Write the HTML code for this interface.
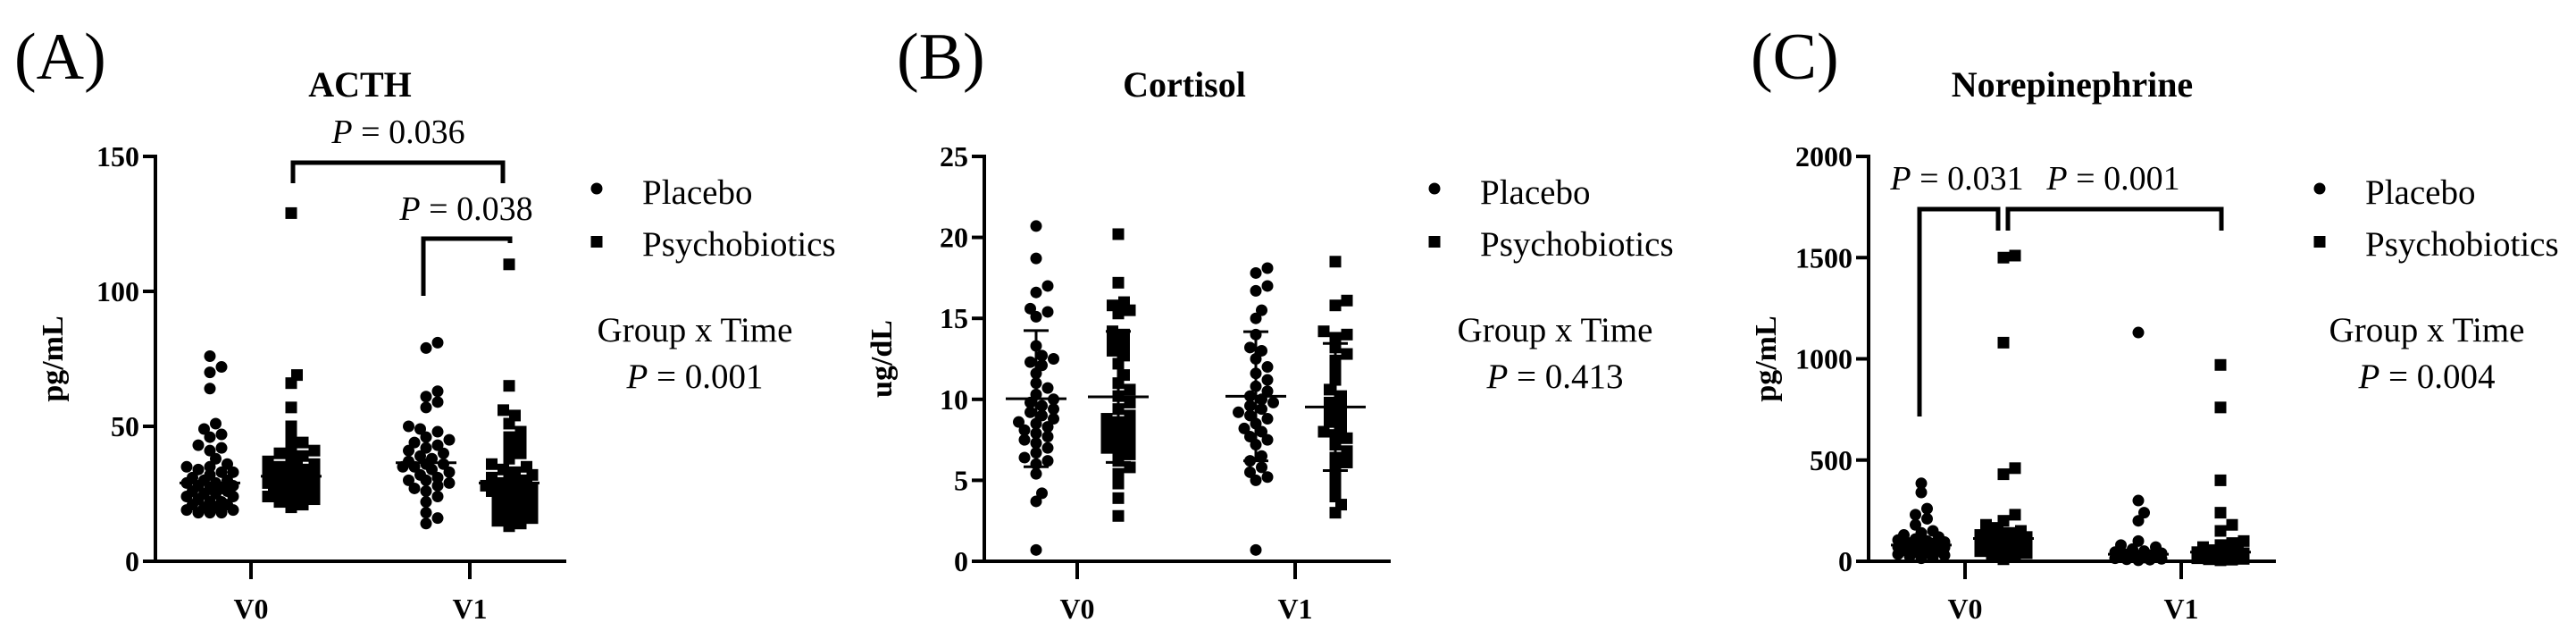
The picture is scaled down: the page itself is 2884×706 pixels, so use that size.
<!DOCTYPE html>
<html><head><meta charset="utf-8">
<style>
html,body{margin:0;padding:0;background:#fff;}
svg{display:block;font-family:"Liberation Serif",serif;}
</style></head>
<body>
<svg id="fig" width="2884" height="706" viewBox="0 0 2884 706" xmlns="http://www.w3.org/2000/svg"></svg>
<script>
// ---- data ----
const groups = ["Placebo", "Psychobiotics"];
const timepoints = ["V0", "V1"];

const acthTicks = [0, 50, 100, 150];
const acthPlaceboV0 = [76,72,70,64,51,49,47,46,43,42,41,38,36,35,35,34,33,33,32,31,30,30,29,29,28,28,27,27,26,26,25,25,24,24,23,22,22,21,21,20,20,19,19,18,18,18];
const acthPsychoV0 = [129,69,66,57,50,46,44,42,41,40,39,38,37,36,35,35,34,34,33,33,32,32,31,31,31,30,30,29,29,28,28,28,27,27,26,26,25,25,24,24,23,22,21,20];
const acthPlaceboV1 = [81,79,63,61,59,57,50,49,48,46,45,44,43,42,41,40,39,38,37,36,36,35,35,34,33,32,31,30,30,29,28,27,26,24,22,18,16,14];
const acthPsychoV1 = [110,65,56,54,51,48,46,44,42,40,38,36,35,34,33,32,31,30,30,29,29,28,28,27,27,26,26,25,24,23,22,21,20,19,18,17,16,15,14,13];

const cortTicks = [0, 5, 10, 15, 20, 25];
const cortPlaceboV0 = [20.7,18.7,17,16.6,15.6,15.4,15.1,13.3,12.7,12.5,12.3,12.1,11.6,11,10.7,10.3,10,9.8,9.6,9.4,9.2,9,8.8,8.6,8.5,8.3,8.1,7.9,7.7,7.5,7.3,7,6.7,6.4,6.2,6,5.4,4.2,3.7,0.7];
const cortPsychoV0 = [20.2,17.2,16,15.8,15.5,15.3,14.2,14,13.6,13.3,13,12.7,12.2,11.5,11,10.6,10.2,9.8,9.4,9,8.8,8.6,8.4,8.2,8,7.8,7.6,7.4,7.2,7,6.8,6.6,6.2,5.8,5.4,4.8,3.9,2.8];
const cortPlaceboV1 = [18.1,17.8,17,16.7,15.5,15,14,13.2,13,12.5,12,11.6,11.2,10.8,10.5,10.2,10,9.8,9.6,9.4,9.2,9,8.8,8.5,8.2,8,7.7,7.5,7.2,6.5,6.2,5.8,5.5,5.2,5,0.7];
const cortPsychoV1 = [18.5,16.1,15.8,14.2,14,13.8,13.2,12.8,12.4,11.8,11.2,10.6,10.2,9.8,9.5,9.2,8.9,8.6,8.3,8,7.8,7.6,7.2,6.8,6.4,6.1,5.8,5.2,4.6,4,3.5,3];

const neTicks = [0, 500, 1000, 1500, 2000];
const nePlaceboV0 = [385,340,260,230,210,180,150,140,130,120,110,105,100,95,90,88,85,80,78,75,72,70,68,65,62,60,55,50,45,40,35,30,25,20,15];
const nePsychoV0 = [1510,1500,1080,460,430,230,200,180,165,150,140,130,125,120,115,110,105,100,95,90,85,80,75,70,60,50,40,30,20,10];
const nePlaceboV1 = [1130,300,240,200,100,80,70,60,50,45,40,35,30,28,25,22,20,18,15,12,10,8,5];
const nePsychoV1 = [970,760,400,240,180,150,100,90,80,70,60,55,50,45,40,35,30,28,25,22,20,18,15,12,10,8,5];

const NS = "http://www.w3.org/2000/svg";
const svg = document.getElementById("fig");
function mk(tag, attrs, parent, text) {
  const e = document.createElementNS(NS, tag);
  for (const k in attrs) e.setAttribute(k, attrs[k]);
  if (text !== undefined) e.textContent = text;
  (parent || svg).appendChild(e);
  return e;
}
function txt(parent, x, y, s, size, opts) {
  opts = opts || {};
  const t = mk("text", {x: x, y: y, "font-size": size, "text-anchor": opts.anchor || "start",
    "font-weight": opts.bold ? "bold" : "normal", fill: "#000"}, parent);
  if (opts.ptext) {
    mk("tspan", {"font-style": "italic"}, t, "P");
    mk("tspan", {}, t, " = " + opts.ptext);
  } else t.textContent = s;
  return t;
}

function beeswarm(vals, cx, ys, d, maxOff) {
  const placed = [];
  const order = vals.map((v, i) => i).sort((a, b) => vals[a] - vals[b]);
  const xs = new Array(vals.length);
  const step = d * 0.5;
  for (const i of order) {
    const y = ys(vals[i]);
    let best = cx, bestD = -1;
    for (let k = 0; k < 60; k++) {
      const off = (k % 2 === 1 ? 1 : -1) * Math.ceil(k / 2) * step;
      if (Math.abs(off) > maxOff) break;
      const x = cx + off;
      let md = Infinity;
      placed.forEach(p => { const dd = Math.hypot(p.x - x, p.y - y); if (dd < md) md = dd; });
      if (md >= d * 0.75) { best = x; bestD = md; break; }
      if (md > bestD + 0.5) { bestD = md; best = x; }
    }
    placed.push({x: best, y: y});
    xs[i] = best;
  }
  return xs;
}
function quant(arr, q) {
  const s = arr.slice().sort((a, b) => a - b);
  const p = (s.length - 1) * q, lo = Math.floor(p), hi = Math.ceil(p);
  return s[lo] + (s[hi] - s[lo]) * (p - lo);
}

function panel(cfg) {
  const g = mk("g", {});
  
  
  const ys = v => cfg.y0 - v / cfg.max * (cfg.y0 - cfg.yTop);
  const L = txt(g, cfg.letterX, 88, cfg.letter, 74);
  
  
  const T = txt(g, cfg.titleX, 108, cfg.title, 40, {anchor: "middle", bold: true});
  
  
  const ax = mk("g", {stroke: "#000", "stroke-width": 4, fill: "none"}, g);
  
  
  mk("line", {x1: cfg.ax, y1: cfg.yTop - 2, x2: cfg.ax, y2: cfg.y0 + 2}, ax);
  mk("line", {x1: cfg.ax - 14, y1: cfg.y0, x2: cfg.xEnd, y2: cfg.y0}, ax);
  cfg.ticks.forEach(t => {
    mk("line", {x1: cfg.ax - 14, y1: ys(t), x2: cfg.ax, y2: ys(t)}, ax);
    const tl = txt(g, cfg.ax - 18, ys(t) + 11, String(t), 32, {anchor: "end", bold: true});
    
    
  });
  timepoints.forEach((tp, i) => {
    const x = cfg.tickX[i];
    mk("line", {x1: x, y1: cfg.y0, x2: x, y2: cfg.y0 + 20}, ax);
    const xl = txt(g, x, 692, tp, 32, {anchor: "middle", bold: true});
    
    
  });
  const yt = mk("text", {x: 0, y: 0, "font-size": 34, "font-weight": "bold", "text-anchor": "middle",
    transform: `translate(${cfg.ax - 104},${(cfg.yTop + cfg.y0) / 2}) rotate(-90)`}, g, cfg.ylabel);
  
  
  cfg.series.forEach(s => {
    const sg = mk("g", {fill: "#000"}, g);
    
    
    const xs = beeswarm(s.vals, s.cx, ys, 13, cfg.maxOff);
    s.vals.forEach((v, i) => {
      let m;
      if (s.shape === "circle") m = mk("circle", {cx: xs[i], cy: ys(v), r: 6.5}, sg);
      else m = mk("rect", {x: xs[i] - 6.5, y: ys(v) - 6.5, width: 13, height: 13}, sg);
      
      
    });
    let c, lo, hi;
    if (cfg.stat === "sd") {
      const n = s.vals.length;
      c = s.vals.reduce((a, b) => a + b, 0) / n;
      const sd = Math.sqrt(s.vals.reduce((a, b) => a + (b - c) ** 2, 0) / (n - 1));
      lo = Math.max(0, c - sd); hi = c + sd;
    } else {
      c = quant(s.vals, 0.5); lo = quant(s.vals, 0.25); hi = quant(s.vals, 0.75);
    }
    const eg = mk("g", {stroke: "#fff", "stroke-width": 3}, g);
    
    
    const col = "#fff";
    mk("line", {x1: s.cx - 34, y1: ys(c), x2: s.cx + 34, y2: ys(c), stroke: "#000", "stroke-width": 3}, eg);
    if (cfg.stat === "sd") {
      mk("line", {x1: s.cx, y1: ys(lo), x2: s.cx, y2: ys(hi), stroke: "#000"}, eg);
      mk("line", {x1: s.cx - 14, y1: ys(hi), x2: s.cx + 14, y2: ys(hi), stroke: "#000"}, eg);
      mk("line", {x1: s.cx - 14, y1: ys(lo), x2: s.cx + 14, y2: ys(lo), stroke: "#000"}, eg);
    }
  });
  (cfg.brackets || []).forEach(b => {
    const bg = mk("g", {}, g);
    
    
    mk("path", {d: `M${b.x1},${b.l1} V${b.top} H${b.x2} V${b.l2}`, stroke: "#000", "stroke-width": 5, fill: "none"}, bg);
    txt(bg, b.tx, b.ty, "", 38, {anchor: "middle", ptext: b.p});
  });
  const lg = mk("g", {}, g);
  
  
  const c = mk("circle", {cx: cfg.legX, cy: 211, r: 6.5, fill: "#000"}, lg);
  
  
  txt(lg, cfg.legX + 51, 228, groups[0], 39);
  const r = mk("rect", {x: cfg.legX - 6.5, y: 264, width: 13, height: 13, fill: "#000"}, lg);
  
  
  txt(lg, cfg.legX + 51, 286, groups[1], 39);
  const gt = txt(g, cfg.gtX, 382, "Group x Time", 39, {anchor: "middle"});
  
  
  const gp = txt(g, cfg.gtX, 434, "", 39, {anchor: "middle", ptext: cfg.gp});
  
  
}

panel({name: "panel-acth", letter: "(A)", letterX: 16, title: "ACTH", titleX: 403, ylabel: "pg/mL",
  ax: 174, yTop: 175, y0: 628, max: 150, xEnd: 634, ticks: acthTicks, tickX: [281, 526],
  stat: "median", maxOff: 30,
  series: [
    {name: "placebo-v0", vals: acthPlaceboV0, cx: 235, shape: "circle"},
    {name: "psychobiotics-v0", vals: acthPsychoV0, cx: 326, shape: "square"},
    {name: "placebo-v1", vals: acthPlaceboV1, cx: 477, shape: "circle"},
    {name: "psychobiotics-v1", vals: acthPsychoV1, cx: 570, shape: "square"}],
  brackets: [
    {x1: 328, x2: 563, top: 182, l1: 205, l2: 205, tx: 446, ty: 160, p: "0.036"},
    {x1: 474, x2: 571, top: 267, l1: 331, l2: 272, tx: 522, ty: 246, p: "0.038"}],
  legX: 668, gtX: 778, gp: "0.001"});

panel({name: "panel-cortisol", letter: "(B)", letterX: 1004, title: "Cortisol", titleX: 1326, ylabel: "ug/dL",
  ax: 1102, yTop: 175, y0: 628, max: 25, xEnd: 1557, ticks: cortTicks, tickX: [1206, 1450],
  stat: "sd", maxOff: 30,
  series: [
    {name: "placebo-v0", vals: cortPlaceboV0, cx: 1160, shape: "circle"},
    {name: "psychobiotics-v0", vals: cortPsychoV0, cx: 1252, shape: "square"},
    {name: "placebo-v1", vals: cortPlaceboV1, cx: 1406, shape: "circle"},
    {name: "psychobiotics-v1", vals: cortPsychoV1, cx: 1495, shape: "square"}],
  brackets: [], legX: 1606, gtX: 1741, gp: "0.413"});

panel({name: "panel-norepinephrine", letter: "(C)", letterX: 1960, title: "Norepinephrine", titleX: 2320, ylabel: "pg/mL",
  ax: 2092, yTop: 175, y0: 628, max: 2000, xEnd: 2548, ticks: neTicks, tickX: [2200, 2442],
  stat: "median", maxOff: 30,
  series: [
    {name: "placebo-v0", vals: nePlaceboV0, cx: 2151, shape: "circle"},
    {name: "psychobiotics-v0", vals: nePsychoV0, cx: 2243, shape: "square"},
    {name: "placebo-v1", vals: nePlaceboV1, cx: 2394, shape: "circle"},
    {name: "psychobiotics-v1", vals: nePsychoV1, cx: 2486, shape: "square"}],
  brackets: [
    {x1: 2149, x2: 2237, top: 234, l1: 466, l2: 258, tx: 2191, ty: 212, p: "0.031"},
    {x1: 2248, x2: 2487, top: 234, l1: 258, l2: 258, tx: 2366, ty: 212, p: "0.001"}],
  legX: 2597, gtX: 2717, gp: "0.004"});
</script>
</body></html>
